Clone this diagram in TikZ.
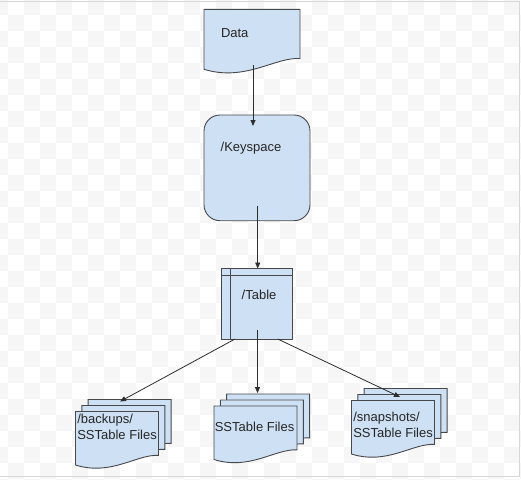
\documentclass[tikz,border=0pt]{standalone}
\usepackage{fontspec}
\setmainfont{Liberation Sans}
\usetikzlibrary{arrows.meta}
\definecolor{shapefill}{RGB}{206,224,243}
\definecolor{shapeline}{RGB}{70,72,76}
\definecolor{arrline}{RGB}{45,45,45}
\definecolor{checker}{RGB}{246,246,246}
\definecolor{frameline}{RGB}{215,215,215}
\tikzset{
  docstyle/.style={fill=shapefill, draw=shapeline, line width=0.9pt, line join=miter},
  lbl/.style={inner sep=0pt, outer sep=0pt, anchor=base west, font=\fontsize{13}{15}\selectfont, text=black!85},
  arr/.style={draw=arrline, line width=0.8pt, -{Triangle[length=6pt,width=5pt]}},
}
\newcommand{\docshape}[4]{%
  \filldraw[docstyle] ({#1},{#2}) -- ({#1+#3},{#2}) -- ({#1+#3},{#2+0.82*#4})
    .. controls ({#1+0.74*#3},{#2+0.795*#4}) and ({#1+0.43*#3},{#2+1.21*#4}) .. ({#1},{#2+#4}) -- cycle;}
\newcommand{\multidoc}[2]{%
  \docshape{#1+12.6}{#2-12}{83}{53.5}%
  \docshape{#1+6.3}{#2-6}{83}{53.5}%
  \docshape{#1}{#2}{83}{53.5}}
\begin{document}
\begin{tikzpicture}[x=1pt,y=-1pt]
\useasboundingbox (0,0) rectangle (521,479);
\fill[white] (0,0) rectangle (521,479);
% faint checkered background
\foreach \i in {-1,...,32}{
  \foreach \j in {-1,...,29}{
    \pgfmathtruncatemacro{\cpar}{mod(\i+\j+100,2)}
    \ifnum\cpar=0
      \fill[checker] ({8+16*\i},{15+16*\j}) rectangle ({24+16*\i},{31+16*\j});
    \fi
  }
}
\draw[frameline, line width=1pt] (0,1.5) -- (519.5,1.5) -- (519.5,476.5) -- (0,476.5);

% Data
\docshape{204}{9.3}{96}{60}
\node[lbl] (data) at (221,37.3) {Data};

% Keyspace
\filldraw[docstyle, rounded corners=16pt] (204,115) rectangle (310,220.7);
\node[lbl] (keyspace) at (220.7,151) {/Keyspace};

% Table
\filldraw[docstyle] (221.7,268.3) rectangle (292.3,339);
\draw[shapeline, line width=0.9pt] (221.7,275.7) -- (292.3,275.7);
\draw[shapeline, line width=0.9pt] (230.7,268.3) -- (230.7,339);
\node[lbl] (table) at (241.7,299.3) {/Table};

% multi documents
\multidoc{75.5}{411.5}
\node[lbl] (bk1) at (77.3,423) {/backups/};
\node[lbl] (bk2) at (77.3,439) {SSTable Files};

\multidoc{214}{406}
\node[lbl] (ss) at (214.8,431.7) {SSTable Files};

\multidoc{351.5}{400.5}
\node[lbl] (sn1) at (353.3,421.7) {/snapshots/};
\node[lbl] (sn2) at (353.3,437.3) {SSTable Files};

% connector end points
\coordinate (dataout) at (253,65);
\coordinate (ksin) at (253,126);
\coordinate (ksout) at (257.7,206);
\coordinate (tabin) at (257.7,268.5);
\coordinate (tabl) at (235,339);
\coordinate (tabc) at (257.5,330);
\coordinate (tabr) at (277.7,339);
\coordinate (bkin) at (120,401.5);
\coordinate (ssin) at (257.5,393);
\coordinate (snin) at (400,397);

\draw[arr] (dataout) -- (ksin);
\draw[arr] (ksout) -- (tabin);
\draw[arr] (tabl) -- (bkin);
\draw[arr] (tabc) -- (ssin);
\draw[arr] (tabr) -- (snin);
\end{tikzpicture}
\end{document}
